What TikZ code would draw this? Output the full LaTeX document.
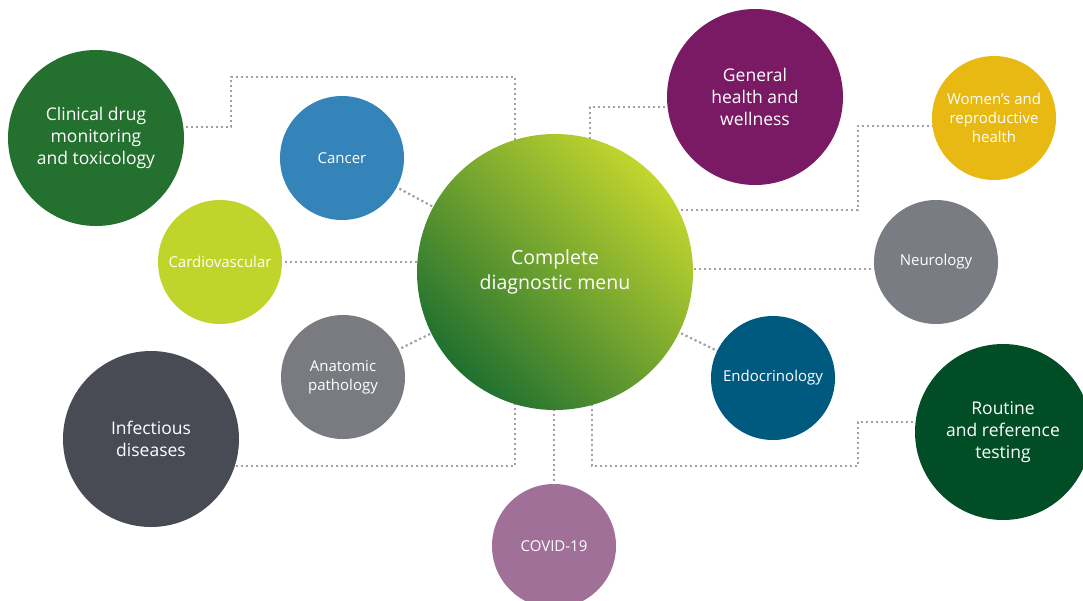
\documentclass[tikz,border=0pt]{standalone}
\usepackage{fontspec}
\setmainfont{Open Sans}
\usetikzlibrary{calc}
\pgfdeclarelayer{bg}
\pgfsetlayers{bg,main}
\definecolor{cClin}{HTML}{24702F}
\definecolor{cCan}{HTML}{3584B9}
\definecolor{cCard}{HTML}{C0D42B}
\definecolor{cAnat}{HTML}{797B80}
\definecolor{cInf}{HTML}{484B53}
\definecolor{cCov}{HTML}{A07098}
\definecolor{cGen}{HTML}{7A1A65}
\definecolor{cWom}{HTML}{E8B912}
\definecolor{cNeu}{HTML}{797D83}
\definecolor{cEnd}{HTML}{005A80}
\definecolor{cRou}{HTML}{004D26}
\definecolor{cDark}{HTML}{1F7030}
\definecolor{cLight}{HTML}{C2D62E}
\definecolor{cLine}{HTML}{A0A0A0}
\tikzset{
  bubble/.style={circle, inner sep=0pt, text=white, align=center},
  big/.style={bubble, minimum size=176pt, font=\fontsize{17.5}{22}\selectfont},
  small/.style={bubble, minimum size=124pt, font=\fontsize{15}{19}\selectfont},
  conn/.style={draw=cLine, line width=2.2pt, dash pattern=on 2.2pt off 2.8pt}
}
\begin{document}
\begin{tikzpicture}[x=1pt,y=-1pt]
\useasboundingbox (0,0) rectangle (1083,600);
\node[bubble, minimum size=276pt, top color=cLight, bottom color=cDark, middle color=cDark!50!cLight, shading angle=-45, font=\fontsize{19.5}{25}\selectfont] (cen) at (555,272) {Complete\\diagnostic menu};
\node[big, fill=cClin] (clin) at (96,138) {Clinical drug\\monitoring\\and toxicology};
\node[small, fill=cCan] (can) at (342,158) {Cancer};
\node[small, fill=cCard] (card) at (220,262) {Cardiovascular};
\node[small, fill=cAnat] (anat) at (343,377) {Anatomic\\pathology};
\node[big, fill=cInf] (inf) at (151,439) {Infectious\\diseases};
\node[small, fill=cCov] (cov) at (554,546) {COVID-19};
\node[big, fill=cGen] (gen) at (755,97) {General\\health and\\wellness};
\node[small, fill=cWom] (wom) at (994,118) {Women’s and\\reproductive\\health};
\node[small, fill=cNeu] (neu) at (936,262) {Neurology};
\node[small, fill=cEnd] (endo) at (773,378) {Endocrinology};
\node[big, fill=cRou] (rou) at (1003,432) {Routine\\and reference\\testing};
\coordinate (nl) at ([yshift=-7pt]neu.center);
\begin{pgfonlayer}{bg}
\draw[conn] ([yshift=11pt]clin.center) -| (231,77) -| ([xshift=-40pt]cen.center);
\draw[conn] (can.center) -- (cen.center);
\draw[conn] (card.center) -- (card.center -| cen.center);
\draw[conn] (anat.center) -- (cen.center);
\draw[conn] ([yshift=-27pt]inf.center) -| ([xshift=-40pt]cen.center);
\draw[conn] (cov.center) -- (cov.center |- cen.center);
\draw[conn] ([yshift=-10pt]gen.center) -| ([xshift=35pt]cen.center);
\draw[conn] ([yshift=-8pt]wom.center) -| (858,210) -- (cen.center |- 0,210);
\draw[conn] (nl) -- (nl -| cen.center);
\draw[conn] (endo.center) -- (cen.center);
\draw[conn] ([yshift=10pt]rou.center) -| (858,466) -| ([xshift=37pt]cen.center);
\end{pgfonlayer}
\end{tikzpicture}
\end{document}
